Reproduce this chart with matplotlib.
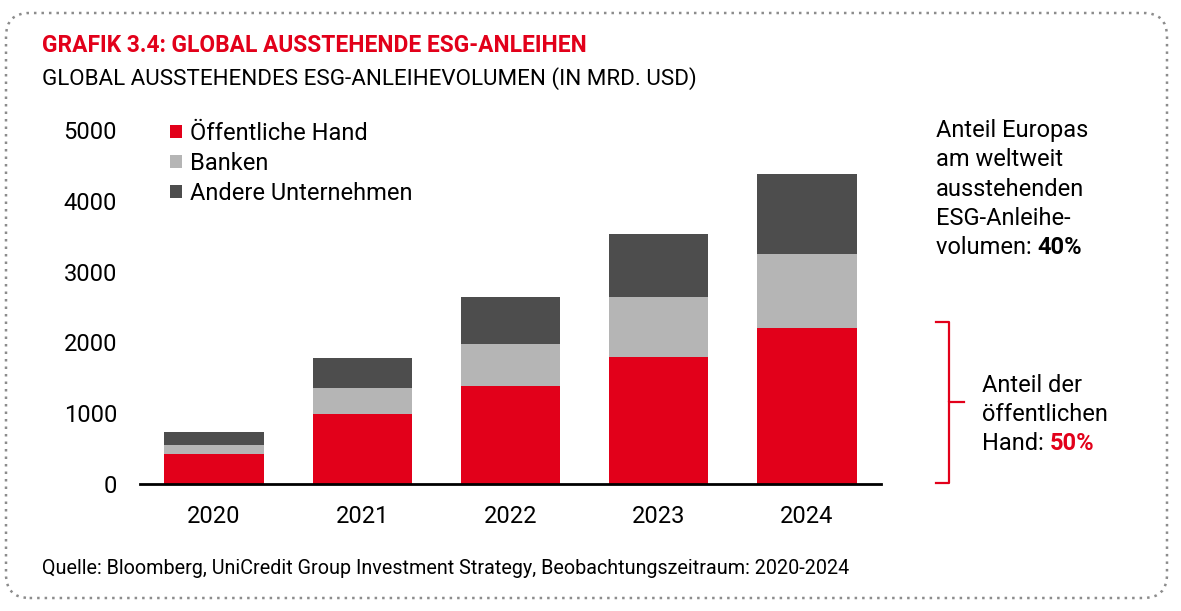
import numpy as np
import matplotlib.pyplot as plt
from matplotlib.patches import FancyBboxPatch

plt.rcParams['font.family'] = ['Roboto', 'DejaVu Sans']

# Daten (Mrd. USD)
jahre = ['2020', '2021', '2022', '2023', '2024']
oeffentliche_hand = [428, 985, 1385, 1795, 2205]
banken = [125, 365, 595, 845, 1050]
andere = [175, 425, 655, 895, 1130]

rot = '#E2001A'
hellgrau = '#B5B5B5'
dunkelgrau = '#4D4D4D'
fs = 17

fig = plt.figure(figsize=(11.81, 6.11), dpi=100)
ax = fig.add_axes([0.1185, 0.2079, 0.6275, 0.5793])

x = np.arange(len(jahre))
b1 = np.array(oeffentliche_hand)
b2 = b1 + np.array(banken)
ax.bar(x, oeffentliche_hand, width=0.67, color=rot, label='Öffentliche Hand')
ax.bar(x, banken, width=0.67, bottom=b1, color=hellgrau, label='Banken')
ax.bar(x, andere, width=0.67, bottom=b2, color=dunkelgrau, label='Andere Unternehmen')

ax.set_xlim(-0.5, 4.5)
ax.set_ylim(0, 5000)
ax.set_yticks(range(0, 5001, 1000))
ax.set_xticks(x)
ax.set_xticklabels(jahre)
for s in ['top', 'right', 'left']:
    ax.spines[s].set_visible(False)
ax.spines['bottom'].set_linewidth(2)
ax.tick_params(axis='both', length=0, labelsize=fs)
ax.tick_params(axis='y', pad=16.5)
ax.tick_params(axis='x', pad=15)

ax.legend(loc='upper left', bbox_to_anchor=(0.028, 1.05), frameon=False, fontsize=fs,
          handlelength=0.5, handleheight=0.5, handletextpad=0.34, labelspacing=0.3,
          borderaxespad=0)

# Titel
fig.text(42/1181, 1 - 46/611, 'GRAFIK 3.4: GLOBAL AUSSTEHENDE ESG-ANLEIHEN', color=rot,
         fontsize=16.4, fontweight='bold', va='center', ha='left')
fig.text(42/1181, 1 - 79/611, 'GLOBAL AUSSTEHENDES ESG-ANLEIHEVOLUMEN (IN MRD. USD)',
         color='black', fontsize=16.1, va='center', ha='left')
fig.text(42/1181, 1 - 568/611,
         'Quelle: Bloomberg, UniCredit Group Investment Strategy, Beobachtungszeitraum: 2020-2024',
         fontsize=14.2, va='center', ha='left')


def block(xpx, ypx, zeilen, fett, farbe, abstand=29.5):
    for i, z in enumerate(zeilen):
        t = fig.text(xpx/1181, 1 - (ypx + i*abstand)/611, z, fontsize=fs,
                     va='center', ha='left')
    ax.annotate(fett, xy=(1, 0), xycoords=t, va='bottom', ha='left', fontsize=fs,
                fontweight='bold', color=farbe)


# Anmerkung rechts oben
block(936, 130, ['Anteil Europas', 'am weltweit', 'ausstehenden', 'ESG-Anleihe-',
                 'volumen: '], '40%', 'black')

# Klammer
bx0, bx1, bx2 = 936/1181, 949/1181, 964/1181
ytop, ymid, ybot = 1 - 322/611, 1 - 402/611, 1 - 483/611
fig.add_artist(plt.Line2D([bx0, bx1, bx1, bx2], [ytop, ytop, ymid, ymid], color=rot, lw=1.6,
                          transform=fig.transFigure))
fig.add_artist(plt.Line2D([bx0, bx1, bx1], [ybot, ybot, ymid], color=rot, lw=1.6,
                          transform=fig.transFigure))

block(982, 385, ['Anteil der', 'öffentlichen', 'Hand: '], '50%', rot)

# gepunkteter Rahmen
rahmen = FancyBboxPatch((6/1181, 13/611), 1161/1181, 585/611,
                        boxstyle='round,pad=0,rounding_size=0.02',
                        transform=fig.transFigure, fill=False, edgecolor='#8C8C8C',
                        linestyle=(0, (1, 2)), lw=1.8, mutation_aspect=1181/611)
fig.add_artist(rahmen)

fig.savefig('out.png', dpi=100)
